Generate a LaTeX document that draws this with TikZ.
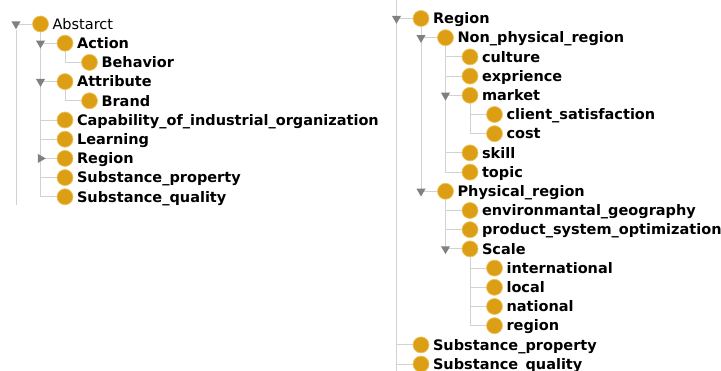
\documentclass[tikz,border=0pt]{standalone}
\usepackage{fontspec}
\setmainfont{DejaVu Sans}
\usetikzlibrary{positioning}
\usetikzlibrary{shapes.geometric}
\usetikzlibrary{backgrounds}
\definecolor{owlgold}{RGB}{220,158,20}
\definecolor{owlrim}{RGB}{236,196,96}
\definecolor{treeline}{RGB}{210,210,210}
\definecolor{expander}{RGB}{128,128,128}
\newcommand*{\rowh  }{19.2}
\newcommand*{\ltop  }{24}
\newcommand*{\rtop  }{18.5}
\newcommand*{\lcolA }{16}
\newcommand*{\lcolB }{40.5}
\newcommand*{\lcolC }{65}
\newcommand*{\lcolD }{89.5}
\newcommand*{\rcolA }{396.5}
\newcommand*{\rcolB }{421}
\newcommand*{\rcolC }{445.5}
\newcommand*{\rcolD }{470}
\newcommand*{\rcolE }{494.5}
\newcommand*{\owlclass}[4]{%
    \node [cls] (#1) at (#2,#3) {};
    \node [lbl, right=3.5pt of #1] (#1-l) {#4};}

\begin{document}
\begin{tikzpicture}[x=1pt, y=-1pt,
    cls/.style={circle, fill=owlgold, draw=owlrim, line width=0.7pt, minimum size=16pt, inner sep=0pt},
    lbl/.style={inner sep=0pt, text height=14pt, text depth=3.4pt, font=\fontsize{14.5}{17}\selectfont\bfseries},
    expand/.style={regular polygon, regular polygon sides=3, shape border rotate=180, fill=expander, minimum size=10.5pt, inner sep=0pt},
    collapsed/.style={expand, shape border rotate=-90},
    branch/.style={draw=treeline, line width=0.8pt}]
    \useasboundingbox (0,0) rectangle (721,371);

    % left tree
    \node [expand] (abstarct-x) at (\lcolA,\ltop) {};
    \owlclass{abstarct}{\lcolB}{\ltop}{\mdseries Abstarct}
    \node [expand] (action-x) at (\lcolB,\ltop+1*\rowh) {};
    \owlclass{action}{\lcolC}{\ltop+1*\rowh}{Action}
    \owlclass{behavior}{\lcolD}{\ltop+2*\rowh}{Behavior}
    \node [expand] (attribute-x) at (\lcolB,\ltop+3*\rowh) {};
    \owlclass{attribute}{\lcolC}{\ltop+3*\rowh}{Attribute}
    \owlclass{brand}{\lcolD}{\ltop+4*\rowh}{Brand}
    \owlclass{capability}{\lcolC}{\ltop+5*\rowh}{Capability\_of\_industrial\_organization}
    \owlclass{learning}{\lcolC}{\ltop+6*\rowh}{Learning}
    \node [collapsed] (region-x) at (\lcolB,\ltop+7*\rowh) {};
    \owlclass{region}{\lcolC}{\ltop+7*\rowh}{Region}
    \owlclass{property}{\lcolC}{\ltop+8*\rowh}{Substance\_property}
    \owlclass{quality}{\lcolC}{\ltop+9*\rowh}{Substance\_quality}
    \coordinate (l-top) at (\lcolA,\ltop+6);
    \coordinate (l-bot) at (\lcolA,205);

    % right tree
    \node [expand] (r-region-x) at (\rcolA,\rtop) {};
    \owlclass{r-region}{\rcolB}{\rtop}{Region}
    \node [expand] (r-nonphys-x) at (\rcolB,\rtop+1*\rowh) {};
    \owlclass{r-nonphys}{\rcolC}{\rtop+1*\rowh}{Non\_physical\_region}
    \owlclass{r-culture}{\rcolD}{\rtop+2*\rowh}{culture}
    \owlclass{r-exprience}{\rcolD}{\rtop+3*\rowh}{exprience}
    \node [expand] (r-market-x) at (\rcolC,\rtop+4*\rowh) {};
    \owlclass{r-market}{\rcolD}{\rtop+4*\rowh}{market}
    \owlclass{r-client}{\rcolE}{\rtop+5*\rowh}{client\_satisfaction}
    \owlclass{r-cost}{\rcolE}{\rtop+6*\rowh}{cost}
    \owlclass{r-skill}{\rcolD}{\rtop+7*\rowh}{skill}
    \owlclass{r-topic}{\rcolD}{\rtop+8*\rowh}{topic}
    \node [expand] (r-phys-x) at (\rcolB,\rtop+9*\rowh) {};
    \owlclass{r-phys}{\rcolC}{\rtop+9*\rowh}{Physical\_region}
    \owlclass{r-environ}{\rcolD}{\rtop+10*\rowh}{environmantal\_geography}
    \owlclass{r-product}{\rcolD}{\rtop+11*\rowh}{product\_system\_optimization}
    \node [expand] (r-scale-x) at (\rcolC,\rtop+12*\rowh) {};
    \owlclass{r-scale}{\rcolD}{\rtop+12*\rowh}{Scale}
    \owlclass{r-international}{\rcolE}{\rtop+13*\rowh}{international}
    \owlclass{r-local}{\rcolE}{\rtop+14*\rowh}{local}
    \owlclass{r-national}{\rcolE}{\rtop+15*\rowh}{national}
    \owlclass{r-regionsc}{\rcolE}{\rtop+16*\rowh}{region}
    \owlclass{r-property}{\rcolB}{\rtop+17*\rowh}{Substance\_property}
    \owlclass{r-quality}{\rcolB}{\rtop+18*\rowh}{Substance\_quality}
    \coordinate (r-top) at (\rcolA,0);
    \coordinate (r-bot) at (\rcolA,371);

    \begin{scope}[on background layer]
        \draw [branch] (l-top) -- (l-bot);
        \draw [branch] (abstarct-x) -- (abstarct);
        \foreach \p/\c in {abstarct/action, action/behavior, abstarct/attribute, attribute/brand,
            abstarct/capability, abstarct/learning, abstarct/region, abstarct/property, abstarct/quality}
            \draw [branch] (\p) |- (\c);
        \draw [branch] (r-top) -- (r-bot);
        \foreach \c in {r-region, r-property, r-quality}
            \draw [branch] (r-top) |- (\c);
        \foreach \p/\c in {r-region/r-nonphys, r-nonphys/r-culture, r-nonphys/r-exprience, r-nonphys/r-market,
            r-market/r-client, r-market/r-cost, r-nonphys/r-skill, r-nonphys/r-topic, r-region/r-phys,
            r-phys/r-environ, r-phys/r-product, r-phys/r-scale, r-scale/r-international, r-scale/r-local,
            r-scale/r-national, r-scale/r-regionsc}
            \draw [branch] (\p) |- (\c);
    \end{scope}
\end{tikzpicture}
\end{document}
